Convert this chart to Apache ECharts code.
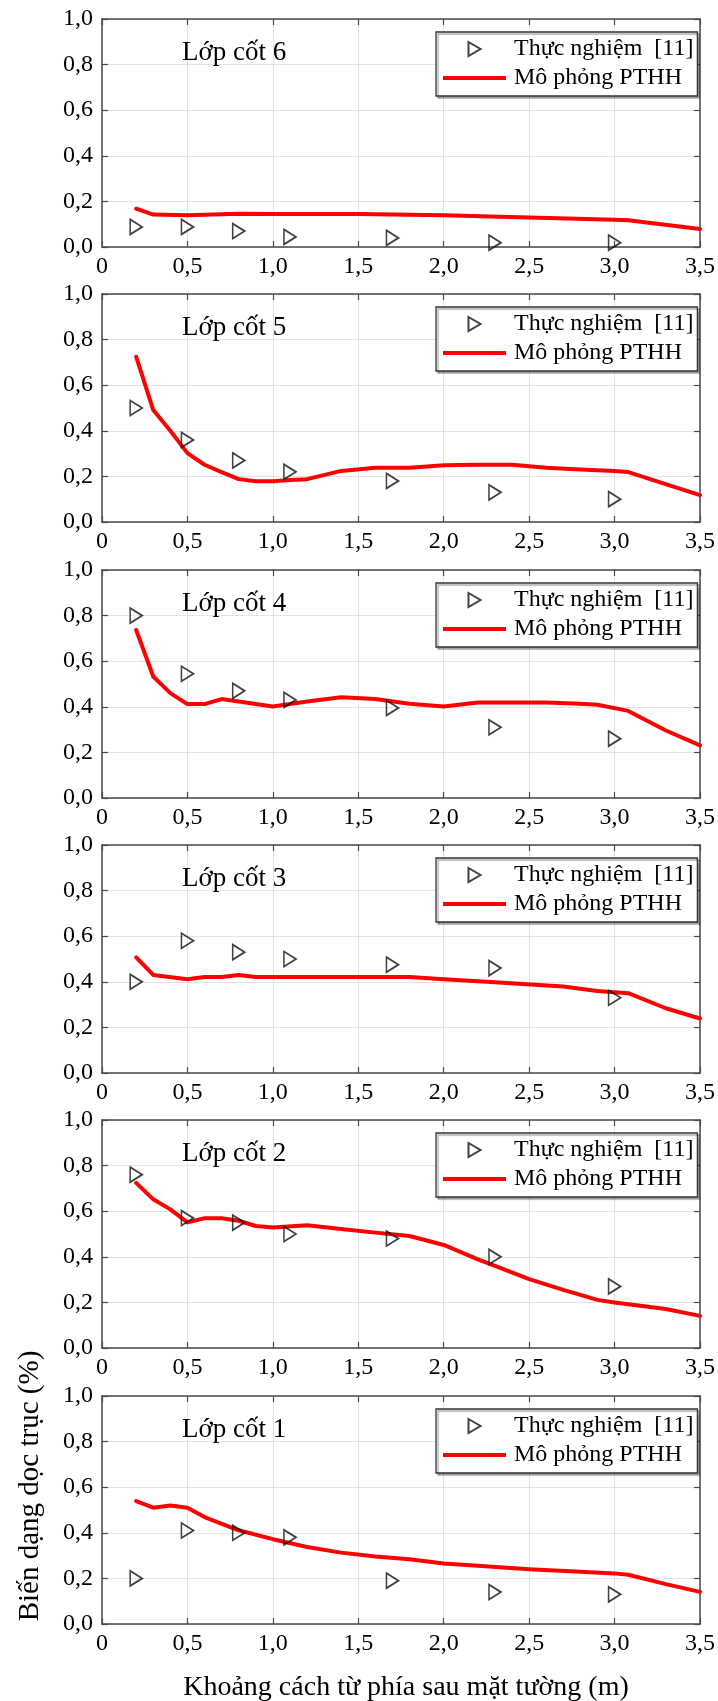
<!DOCTYPE html>
<html>
<head>
<meta charset="utf-8">
<script src="https://cdn.jsdelivr.net/npm/echarts@6/dist/echarts.min.js"></script>
<style>
html,body{margin:0;padding:0;background:#fff;}
#chart{width:718px;height:1701px;}
</style>
</head>
<body>
<div id="chart"></div>
<script>
// ---- Data ----
var panelTitles = ['Lớp cốt 6', 'Lớp cốt 5', 'Lớp cốt 4', 'Lớp cốt 3', 'Lớp cốt 2', 'Lớp cốt 1'];
var seriesNames = ['Thực nghiệm  [11]', 'Mô phỏng PTHH'];
var xTicks = [0, 0.5, 1.0, 1.5, 2.0, 2.5, 3.0, 3.5];
var yTicks = [0, 0.2, 0.4, 0.6, 0.8, 1.0];
var xAxisTitle = 'Khoảng cách từ phía sau mặt tường (m)';
var yAxisTitle = 'Biến dạng dọc trục (%)';

// experimental x positions (m)
var expX = [0.2, 0.5, 0.8, 1.1, 1.7, 2.3, 3.0];
var exp6 = [0.088, 0.088, 0.07, 0.044, 0.04, 0.019, 0.019];
var exp5 = [0.50, 0.36, 0.27, 0.22, 0.18, 0.13, 0.10];
var exp4 = [0.80, 0.545, 0.47, 0.43, 0.395, 0.31, 0.26];
var exp3 = [0.40, 0.58, 0.53, 0.50, 0.475, 0.46, 0.33];
var exp2 = [0.76, 0.57, 0.55, 0.50, 0.48, 0.40, 0.27];
var exp1 = [0.20, 0.41, 0.40, 0.38, 0.19, 0.14, 0.13];

// simulation (FEM) curves
var sim6X = [0.2, 0.3, 0.5, 0.8, 1.0, 1.5, 2.0, 2.5, 3.0, 3.08, 3.5];
var sim6Y = [0.168, 0.142, 0.139, 0.146, 0.145, 0.145, 0.139, 0.129, 0.12, 0.117, 0.079];

var sim5X = [0.2, 0.3, 0.4, 0.5, 0.6, 0.7, 0.8, 0.9, 1.0, 1.1, 1.2, 1.4, 1.6, 1.8, 2.0, 2.2, 2.4, 2.6, 2.8, 3.0, 3.08, 3.5];
var sim5Y = [0.725, 0.491, 0.40, 0.302, 0.251, 0.219, 0.188, 0.179, 0.179, 0.184, 0.188, 0.224, 0.238, 0.238, 0.249, 0.251, 0.251, 0.238, 0.23, 0.224, 0.219, 0.118];

var sim4X = [0.2, 0.3, 0.4, 0.5, 0.6, 0.7, 0.8, 1.0, 1.2, 1.4, 1.6, 1.8, 2.0, 2.2, 2.4, 2.6, 2.8, 2.9, 3.08, 3.3, 3.5];
var sim4Y = [0.737, 0.533, 0.46, 0.412, 0.412, 0.434, 0.423, 0.401, 0.423, 0.442, 0.434, 0.413, 0.401, 0.419, 0.419, 0.419, 0.413, 0.409, 0.382, 0.296, 0.231];

var sim3X = [0.2, 0.3, 0.5, 0.6, 0.7, 0.8, 0.9, 1.0, 1.4, 1.8, 2.0, 2.3, 2.7, 2.9, 3.08, 3.3, 3.5];
var sim3Y = [0.507, 0.43, 0.411, 0.421, 0.421, 0.43, 0.421, 0.421, 0.421, 0.421, 0.411, 0.398, 0.379, 0.36, 0.35, 0.284, 0.239];

var sim2X = [0.2, 0.3, 0.4, 0.5, 0.6, 0.7, 0.8, 0.9, 1.0, 1.2, 1.4, 1.6, 1.8, 2.0, 2.2, 2.3, 2.5, 2.7, 2.9, 3.0, 3.3, 3.5];
var sim2Y = [0.724, 0.652, 0.608, 0.551, 0.569, 0.569, 0.558, 0.535, 0.529, 0.538, 0.522, 0.506, 0.491, 0.452, 0.389, 0.36, 0.302, 0.255, 0.211, 0.2, 0.171, 0.141];

var sim1X = [0.2, 0.3, 0.4, 0.5, 0.6, 0.8, 1.0, 1.2, 1.4, 1.6, 1.8, 2.0, 2.2, 2.5, 2.8, 3.0, 3.08, 3.3, 3.5];
var sim1Y = [0.539, 0.51, 0.52, 0.51, 0.469, 0.411, 0.372, 0.338, 0.313, 0.296, 0.284, 0.265, 0.255, 0.24, 0.229, 0.222, 0.216, 0.175, 0.141];

var expData = [exp6, exp5, exp4, exp3, exp2, exp1];
var simXs = [sim6X, sim5X, sim4X, sim3X, sim2X, sim1X];
var simYs = [sim6Y, sim5Y, sim4Y, sim3Y, sim2Y, sim1Y];

(function () {
  var FONT = '"Liberation Serif", "Times New Roman", serif';
  var GL = 102, GW = 601, GH = 228, TOP0 = 19, STEP = 275.3;
  var frameColor = '#4a4a4a';

  function zip(xs, ys) { return xs.map(function (x, i) { return [x, ys[i]]; }); }
  function fmtX(v) { return v === 0 ? '0' : v.toFixed(1).replace('.', ','); }
  function fmtY(v) { return v.toFixed(1).replace('.', ','); }

  var triPath = 'path://M0,0 L12,7 L0,14 Z';
  var lineIcon = 'path://M0,0 L63,0 L63,4 L0,4 Z';

  var grids = [], xAxes = [], yAxes = [], series = [], titles = [], legends = [];
  for (var i = 0; i < 6; i++) {
    var pTop = Math.round(TOP0 + STEP * i);
    grids.push({ left: GL, top: pTop, width: GW, height: GH, containLabel: false });
    xAxes.push({
      type: 'value', gridIndex: i, min: 0, max: 3.5, interval: 0.5,
      axisLine: { show: true, onZero: false, lineStyle: { color: frameColor, width: 1.5 } },
      axisTick: { show: true, inside: true, length: 6, lineStyle: { color: frameColor, width: 1.2 } },
      splitLine: { show: true, lineStyle: { color: '#e3e3e3', width: 1 } },
      axisLabel: { show: true, formatter: fmtX, color: '#000', fontFamily: FONT, fontSize: 24, margin: 8 }
    });
    xAxes.push({
      type: 'value', gridIndex: i, min: 0, max: 3.5, interval: 0.5, position: 'top',
      axisLine: { show: true, onZero: false, lineStyle: { color: frameColor, width: 1.5 } },
      axisTick: { show: true, inside: true, length: 6, lineStyle: { color: frameColor, width: 1.2 } },
      splitLine: { show: false }, axisLabel: { show: false }
    });
    yAxes.push({
      type: 'value', gridIndex: i, min: 0, max: 1.0, interval: 0.2,
      axisLine: { show: true, onZero: false, lineStyle: { color: frameColor, width: 1.5 } },
      axisTick: { show: true, inside: true, length: 6, lineStyle: { color: frameColor, width: 1.2 } },
      splitLine: { show: true, lineStyle: { color: '#e3e3e3', width: 1 } },
      axisLabel: { show: true, formatter: fmtY, color: '#000', fontFamily: FONT, fontSize: 24, margin: 9 }
    });
    yAxes.push({
      type: 'value', gridIndex: i, min: 0, max: 1.0, interval: 0.2, position: 'right',
      axisLine: { show: true, onZero: false, lineStyle: { color: frameColor, width: 1.5 } },
      axisTick: { show: true, inside: true, length: 6, lineStyle: { color: frameColor, width: 1.2 } },
      splitLine: { show: false }, axisLabel: { show: false }
    });
    series.push({
      type: 'line', name: seriesNames[1], xAxisIndex: 2 * i, yAxisIndex: 2 * i,
      data: zip(simXs[i], simYs[i]), symbol: 'none', smooth: false,
      lineStyle: { color: '#ff0000', width: 4, join: 'round', cap: 'round' },
      itemStyle: { color: '#ff0000' }, z: 3
    });
    series.push({
      type: 'scatter', name: seriesNames[0], xAxisIndex: 2 * i, yAxisIndex: 2 * i,
      data: zip(expX, expData[i]), symbol: triPath, symbolSize: [12, 15],
      itemStyle: { color: 'rgba(255,255,255,0)', borderColor: '#111', borderWidth: 1.7 }, z: 4
    });
    titles.push({
      text: panelTitles[i], left: 182, top: pTop + 20, padding: 0,
      textStyle: { fontFamily: FONT, fontSize: 27, fontWeight: 'normal', color: '#000' }
    });
    legends.push({
      orient: 'vertical', left: 436, top: pTop + 13,
      data: [{ name: seriesNames[0] }, { name: seriesNames[1], icon: lineIcon }],
      itemWidth: 63, itemHeight: 14, itemGap: 5,
      padding: [5, 4, 6, 7],
      backgroundColor: '#fff', borderColor: '#333', borderWidth: 1.3,
      shadowColor: 'rgba(0,0,0,0.35)', shadowOffsetX: 2, shadowOffsetY: 2, shadowBlur: 1,
      selectedMode: false,
      textStyle: { fontFamily: FONT, fontSize: 24, color: '#000', lineHeight: 20, padding: [0, 0, 0, 3] }
    });
  }

  var option = {
    backgroundColor: '#fff',
    animation: false,
    title: titles,
    legend: legends,
    grid: grids,
    xAxis: xAxes,
    yAxis: yAxes,
    series: series,
    graphic: [
      {
        type: 'text', x: 406, y: 1688,
        style: { text: xAxisTitle, fontFamily: FONT, fontSize: 28, fill: '#000', textAlign: 'center', textVerticalAlign: 'middle', align: 'center', verticalAlign: 'middle' }
      },
      {
        type: 'text', x: 30, y: 1486, rotation: Math.PI / 2,
        style: { text: yAxisTitle, fontFamily: FONT, fontSize: 29, fill: '#000', textAlign: 'center', textVerticalAlign: 'middle', align: 'center', verticalAlign: 'middle' }
      }
    ]
  };

  var chart = echarts.init(document.getElementById('chart'), null, { renderer: 'canvas' });
  chart.setOption(option);
})();
</script>
</body>
</html>
